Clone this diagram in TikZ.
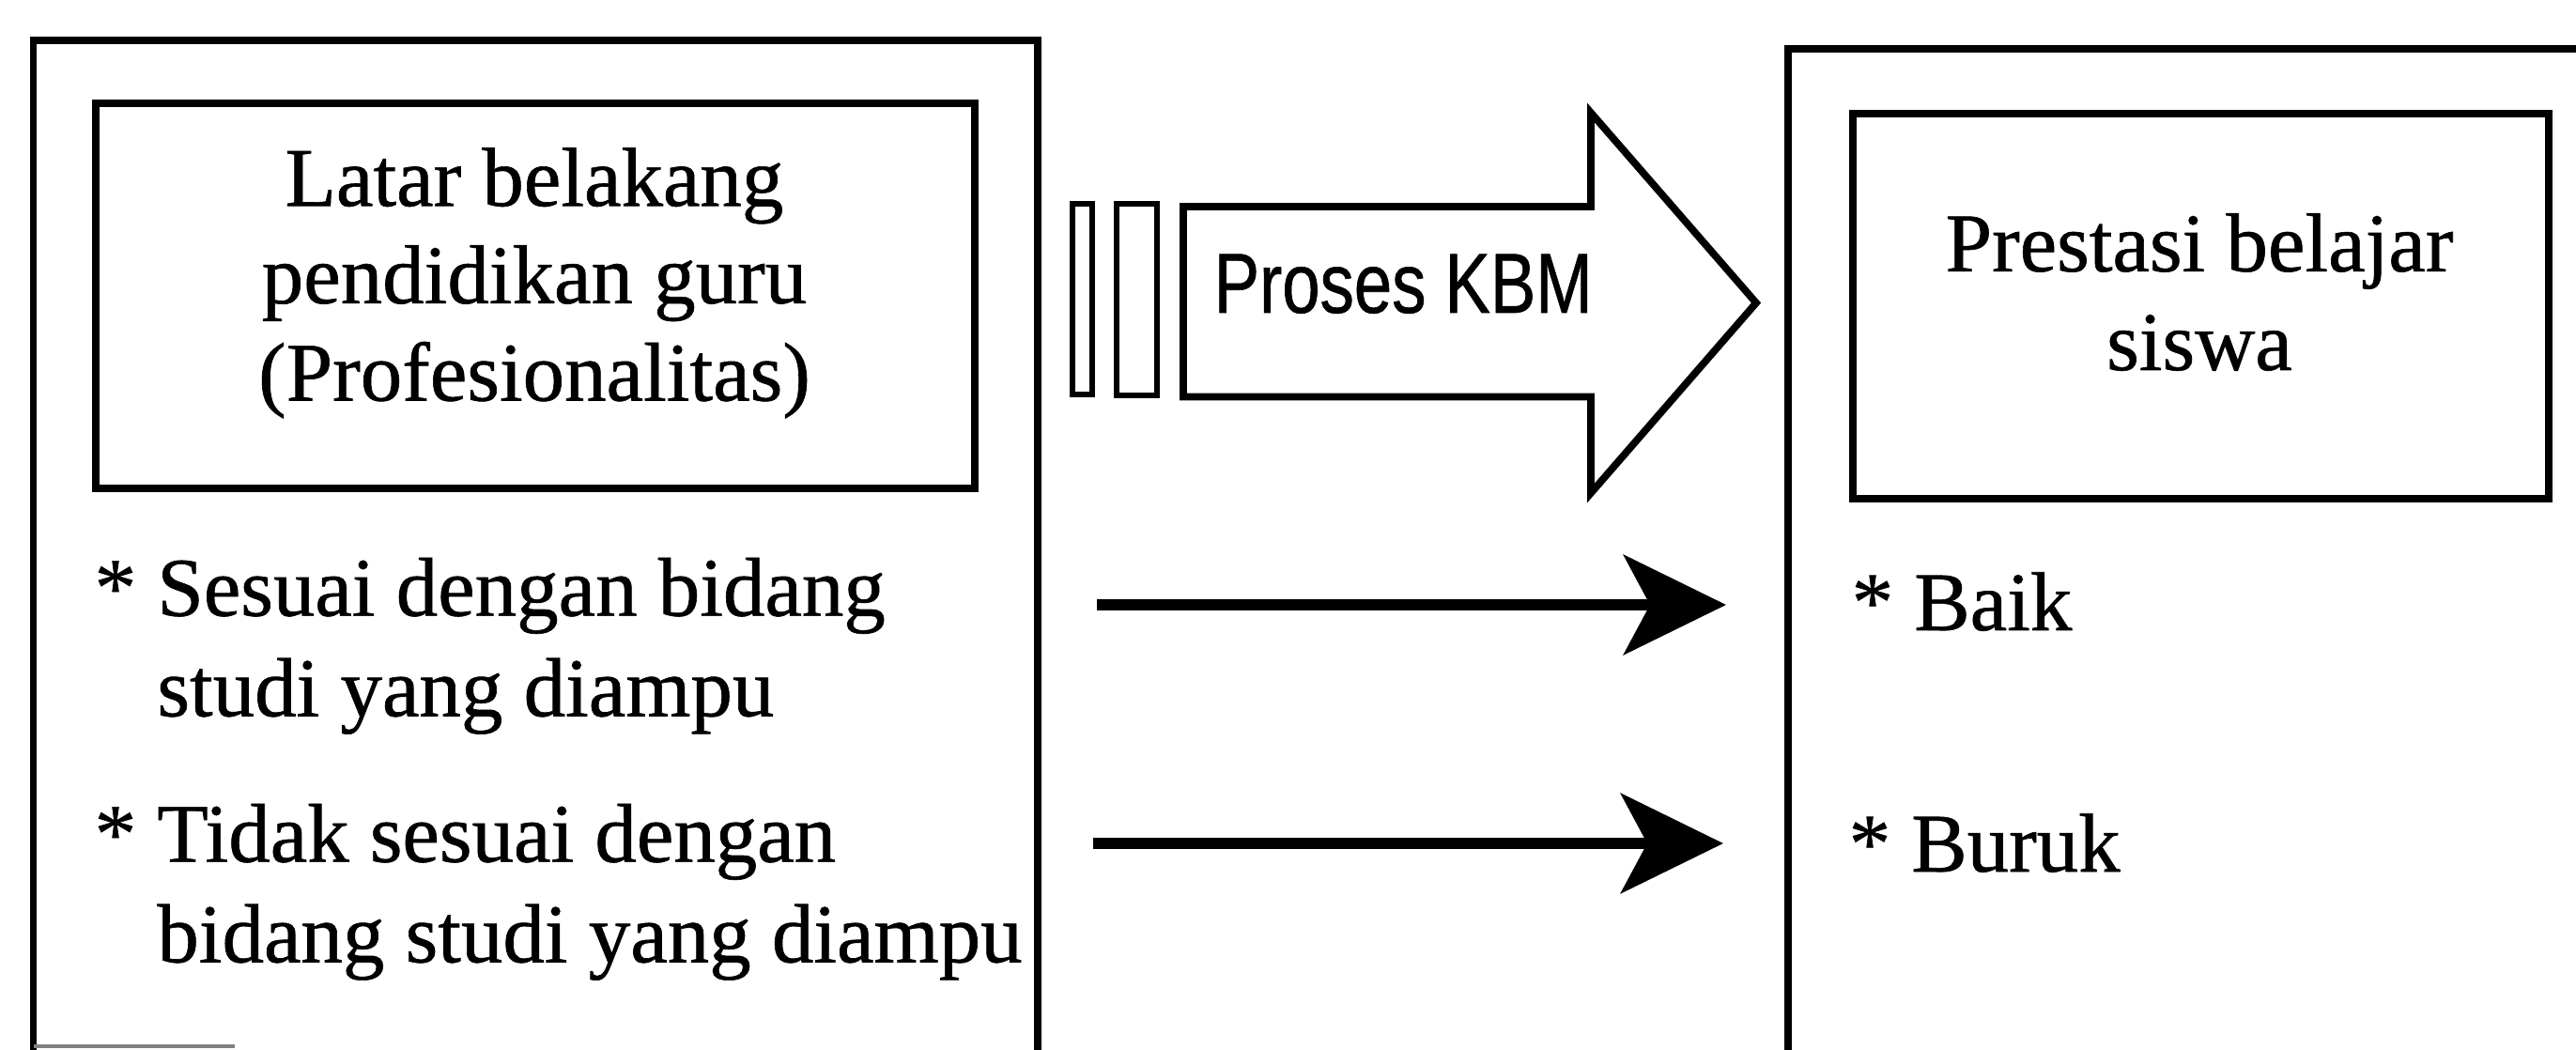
\documentclass[tikz,border=0pt]{standalone}
\usepackage{fontspec}
\setmainfont{Liberation Serif}[UprightFeatures={FakeBold=0.7}]
\newfontfamily\narrowsans{Liberation Sans}[FakeStretch=0.8,UprightFeatures={FakeBold=0.7}]
\usetikzlibrary{arrows.meta}
\begin{document}
\begin{tikzpicture}[x=1cm,y=1cm,
  frame/.style={line width=2.2pt, line join=miter},
  thinframe/.style={line width=1.9pt, line join=miter},
  boxline/.style={draw, line width=2.2pt, inner sep=0pt, outer sep=0pt},
  lefttext/.style={font=\fontsize{25.3}{29.5}\selectfont, align=center, inner sep=0pt},
  righttext/.style={font=\fontsize{25.3}{29.9}\selectfont, align=center, inner sep=0pt},
  itemtext/.style={font=\fontsize{25.3}{30.4}\selectfont, align=left, inner sep=0pt},
  flow/.style={line width=3.6pt, -{Stealth[length=1.09cm,width=1.06cm,inset=0.28cm]}}
]
\useasboundingbox (0,0) rectangle (27.43,11.17);

% outer panels (cut by the picture edge)
\draw[frame] (0.355,-0.3) -- (0.355,10.74) -- (11.05,10.74) -- (11.05,-0.3);
\draw[gray, line width=1pt] (0.355,0.03) -- (2.5,0.03);
\draw[frame] (27.6,10.65) -- (19.04,10.65) -- (19.04,-0.3);

% inner boxes
\node[boxline, minimum width=9.36cm, minimum height=4.10cm, anchor=north west] (latarbox) at (1.02,10.07) {};
\node[boxline, minimum width=7.41cm, minimum height=4.10cm, anchor=north west] (prestasibox) at (19.73,9.96) {};

% box texts
\node[lefttext] (latar) at (5.69,8.155) {Latar belakang\\pendidikan guru\\(Profesionalitas)};
\node[righttext] (prestasi) at (23.42,8.06) {Prestasi belajar\\siswa};

% list items
\node[itemtext, anchor=west] (sesuai) at (1.00,4.292) {* Sesuai dengan bidang\\\hphantom{* }studi yang diampu};
\node[itemtext, anchor=west] (tidak) at (1.00,1.672) {* Tidak sesuai dengan\\\hphantom{* }bidang studi yang diampu};
\node[itemtext, anchor=base west] (baik) at (19.71,4.46) {* Baik};
\node[itemtext, anchor=base west] (buruk) at (19.68,1.89) {* Buruk};

% block arrow "Proses KBM"
\draw[thinframe] (11.42,9.00) rectangle (11.63,6.97);
\draw[thinframe] (11.89,9.00) rectangle (12.32,6.96);
\draw[frame] (12.60,8.97) -- (16.94,8.97) -- (16.94,9.97) -- (18.70,7.945)
  -- (16.94,5.92) -- (16.94,6.945) -- (12.60,6.945) -- cycle;
\node[inner sep=0pt, anchor=base west, font=\narrowsans\fontsize{25.8}{30}\selectfont] (kbm) at (12.92,7.84) {Proses KBM};

% arrows
\coordinate (s1) at (11.68,4.73);
\coordinate (e1) at (18.38,4.73);
\coordinate (s2) at (11.64,2.19);
\coordinate (e2) at (18.35,2.19);
\draw[flow] (s1) -- (e1);
\draw[flow] (s2) -- (e2);
\end{tikzpicture}
\end{document}
